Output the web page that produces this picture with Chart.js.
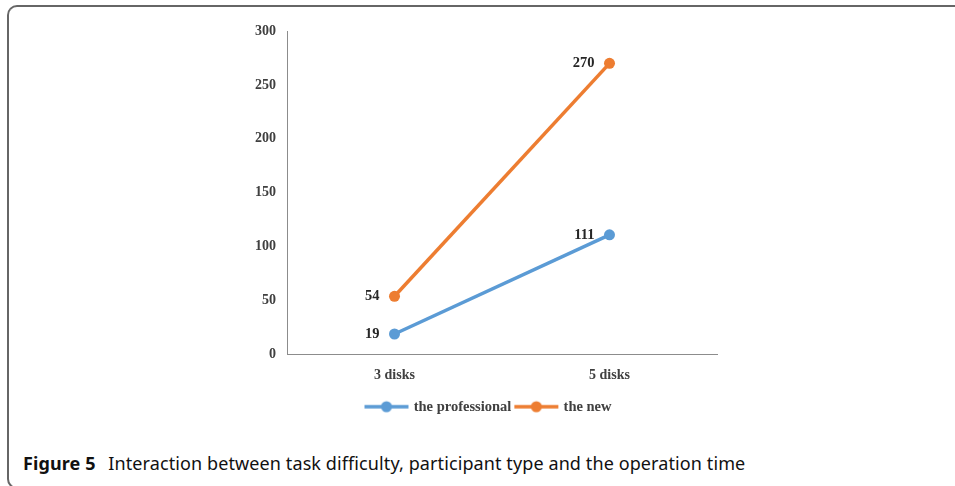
<!DOCTYPE html>
<html lang="en">
<head>
  <meta charset="UTF-8">
  <title>Figure 5</title>
  <script src="https://cdn.jsdelivr.net/npm/chart.js"></script>
  <style>
    body {
      margin: 0;
      width: 955px;
      height: 486px;
      background: #fff;
      position: relative;
      overflow: hidden;
    }

    #frame {
      position: absolute;
      left: 7px;
      top: 5px;
      width: 1000px;
      height: 480px;
      border: 2px solid #666;
      border-right: none;
      border-radius: 10px 0 0 10px;
    }

    #chartBox {
      position: absolute;
      left: 0;
      top: 0;
      width: 955px;
      height: 430px;
    }

    #caption {
      position: absolute;
      left: 23px;
      top: 451px;
      font-family: "Noto Sans", "Open Sans", sans-serif;
      font-size: 18px;
      letter-spacing: 0.1px;
      color: #111;
      white-space: nowrap;
    }

    #caption b {
      margin-right: 8px;
    }
  </style>
</head>
<body>
  <div id="frame"></div>
  <div id="chartBox">
    <canvas id="interactionChart"></canvas>
  </div>
  <div id="caption"><b>Figure 5</b> Interaction between task difficulty, participant type and the operation time</div>

  <script>
    const categories = ["3 disks", "5 disks"];
    const professionalTimes = [19, 111];
    const newTimes = [54, 270];
    const yTicks = [0, 50, 100, 150, 200, 250, 300];

    const BLUE = "#5b9bd5";
    const ORANGE = "#ed7d31";
    const SERIF = "'Liberation Serif', 'Times New Roman', serif";

    // legend marker: a short line with a dot in the middle, like the Excel legend
    function legendMarker(color) {
      const c = document.createElement("canvas");
      c.width = 46;
      c.height = 14;
      const g = c.getContext("2d");
      g.strokeStyle = color;
      g.lineWidth = 3.5;
      g.beginPath();
      g.moveTo(1, 7);
      g.lineTo(45, 7);
      g.stroke();
      g.fillStyle = color;
      g.beginPath();
      g.arc(23, 7, 5.5, 0, Math.PI * 2);
      g.fill();
      return c;
    }

    const valueLabels = {
      id: "valueLabels",
      afterDatasetsDraw(chart) {
        const ctx = chart.ctx;
        ctx.save();
        ctx.font = "bold 14.5px " + SERIF;
        ctx.fillStyle = "#262626";
        ctx.textAlign = "right";
        ctx.textBaseline = "middle";
        chart.data.datasets.forEach((ds, i) => {
          chart.getDatasetMeta(i).data.forEach((pt, j) => {
            ctx.fillText(String(ds.data[j]), pt.x - 15, pt.y);
          });
        });
        ctx.restore();
      }
    };

    // the y axis box is kept narrow so the legend centres like the original;
    // widen its left edge afterwards so the tick labels are not clipped
    const widenYLabels = {
      id: "widenYLabels",
      afterLayout(chart) {
        chart.scales.y.left = chart.scales.y.right - 70;
      }
    };

    new Chart(document.getElementById("interactionChart"), {
      type: "line",
      data: {
        labels: categories,
        datasets: [
          {
            label: "the professional",
            data: professionalTimes,
            borderColor: BLUE,
            backgroundColor: BLUE,
            borderWidth: 3.5,
            pointRadius: 5.5,
            pointBorderWidth: 0,
            pointStyle: "circle",
            legendMarker: legendMarker(BLUE)
          },
          {
            label: "the new",
            data: newTimes,
            borderColor: ORANGE,
            backgroundColor: ORANGE,
            borderWidth: 3.5,
            pointRadius: 5.5,
            pointBorderWidth: 0,
            pointStyle: "circle",
            legendMarker: legendMarker(ORANGE)
          }
        ]
      },
      options: {
        responsive: true,
        maintainAspectRatio: false,
        animation: false,
        layout: {
          padding: { left: 261, right: 238, top: 31, bottom: 6 }
        },
        plugins: {
          tooltip: { enabled: false },
          legend: {
            position: "bottom",
            labels: {
              usePointStyle: true,
              pointStyleWidth: 40,
              padding: 5,
              color: "#404040",
              font: { family: SERIF, size: 14.5, weight: "bold" },
              generateLabels(chart) {
                return chart.data.datasets.map((ds, i) => ({
                  text: ds.label,
                  datasetIndex: i,
                  pointStyle: ds.legendMarker,
                  fillStyle: ds.borderColor,
                  strokeStyle: ds.borderColor,
                  fontColor: "#404040",
                  lineWidth: 0,
                  hidden: false
                }));
              }
            }
          }
        },
        scales: {
          x: {
            offset: true,
            grid: { display: false, drawTicks: false },
            border: { color: "#8c8c8c", width: 1 },
            ticks: {
              padding: 12,
              color: "#404040",
              font: { family: SERIF, size: 14, weight: "bold" }
            },
            afterFit(scale) { scale.height = 40; }
          },
          y: {
            min: yTicks[0],
            max: yTicks[yTicks.length - 1],
            grid: { display: false, drawTicks: false },
            border: { color: "#8c8c8c", width: 1 },
            afterBuildTicks(scale) {
              scale.ticks = yTicks.map(v => ({ value: v }));
            },
            ticks: {
              padding: 11,
              color: "#404040",
              font: { family: SERIF, size: 14, weight: "bold" }
            },
            afterFit(scale) { scale.width = 26; }
          }
        }
      },
      plugins: [valueLabels, widenYLabels]
    });
  </script>
</body>
</html>
